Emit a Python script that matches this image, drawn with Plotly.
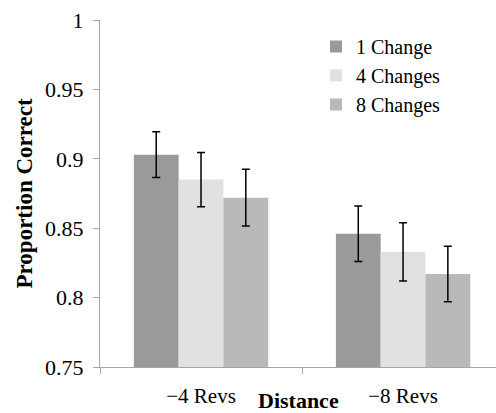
import plotly.graph_objects as go

categories = ["\u22124 Revs", "\u22128 Revs"]
series_names = ["1 Change", "4 Changes", "8 Changes"]
one_change = [0.903, 0.846]
four_changes = [0.885, 0.833]
eight_changes = [0.872, 0.817]
one_err = [0.0165, 0.020]
four_err = [0.0195, 0.021]
eight_err = [0.0205, 0.020]
colors = ["#9a9a9a", "#e1e1e1", "#b9b9b9"]

fig = go.Figure()
for name, vals, errs, col in zip(series_names, [one_change, four_changes, eight_changes],
                                  [one_err, four_err, eight_err], colors):
    fig.add_trace(go.Bar(
        x=categories, y=vals, name=name, marker=dict(color=col, line=dict(width=0)),
        error_y=dict(type="data", array=errs, color="black", thickness=1.5, width=4),
    ))

font_family = "Times New Roman"
fig.update_layout(
    width=496, height=413,
    margin=dict(l=100, r=0, t=20, b=46),
    paper_bgcolor="white", plot_bgcolor="white",
    barmode="group", bargap=0.335, bargroupgap=0,
    font=dict(family=font_family, color="black"),
    showlegend=True,
    legend=dict(x=(316 - 100) / 396, y=(367 - 27) / 347, xanchor="left", yanchor="top",
                font=dict(size=20, family=font_family), itemwidth=30,
                tracegroupgap=0, bgcolor="rgba(0,0,0,0)"),
    xaxis=dict(type="category", range=[-0.5, 1.46], showline=True, linecolor="#a6a6a6",
               linewidth=1, ticks="outside", tickson="boundaries", ticklen=6,
               tickcolor="#a6a6a6", tickfont=dict(size=21, family=font_family),
               ticklabelstandoff=10, showgrid=False),
    yaxis=dict(range=[0.75, 1.0], tickvals=[0.75, 0.8, 0.85, 0.9, 0.95, 1.0],
               ticktext=["0.75", "0.8", "0.85", "0.9", "0.95", "1"],
               showline=True, linecolor="#a6a6a6", linewidth=1, ticks="outside",
               ticklen=6, tickcolor="#a6a6a6", showgrid=False, zeroline=False,
               ticklabelstandoff=5, tickfont=dict(size=22, family=font_family)),
    annotations=[
        dict(text="<b>Distance</b>", x=0.5, xref="paper", y=0, yref="paper",
             yanchor="top", yshift=-19, showarrow=False,
             font=dict(size=22, family=font_family)),
        dict(text="<b>Proportion Correct</b>", textangle=-90, x=0, xref="paper",
             xanchor="center", xshift=-76, y=0.5, yref="paper", showarrow=False,
             font=dict(size=23, family=font_family)),
    ],
)
fig.write_html("out.html", post_script="document.body.style.margin='0';",
               config={"displayModeBar": False})
